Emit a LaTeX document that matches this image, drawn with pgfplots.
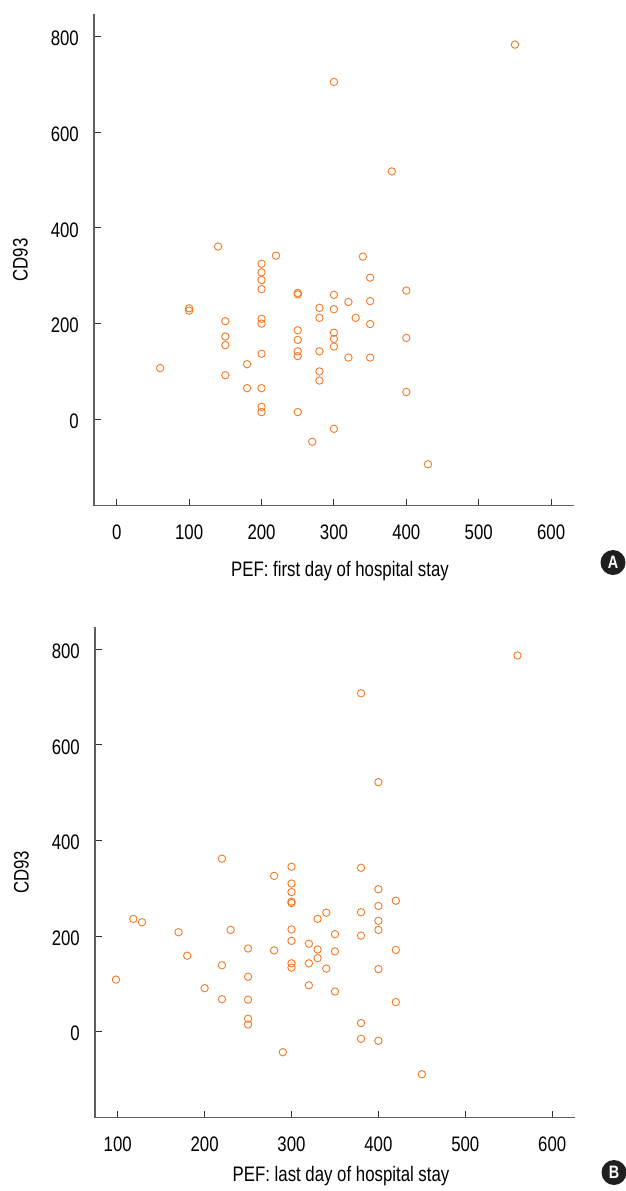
\documentclass[border=0pt]{standalone}
\usepackage{fontspec}
\setmainfont{Liberation Sans}[FakeStretch=0.8]
\usepackage{pgfplots}
\pgfplotsset{compat=1.18}
\definecolor{mk}{RGB}{242,122,38}
\definecolor{axg}{RGB}{95,95,95}
\newcommand{\lblfont}{\fontsize{21pt}{24pt}\selectfont}
\pgfplotsset{
  scat/.style={
    scale only axis,
    width=480pt,
    axis lines=left,
    axis line style={-, draw=axg, line width=1.3pt},
    tick align=inside,
    major tick length=7pt,
    tick style={draw=black!80, line width=0.9pt},
    ytick={0,200,400,600,800},
    /pgf/number format/assume math mode=true,
    tick label style={font=\lblfont},
    label style={font=\lblfont},
    yticklabel style={anchor=east, inner sep=0pt, xshift=-15pt, yshift=-2pt},
    xticklabel style={anchor=north, inner sep=0pt, yshift=-19pt},
    ylabel style={at={(axis description cs:0,0.5)}, anchor=center, inner sep=0pt, yshift=73.5pt},
    clip=false,
  },
  mk/.style={only marks, mark=o, mark size=3.7pt, mark options={draw=mk, line width=0.9pt}}
}
\begin{document}
\begin{tikzpicture}
\path[use as bounding box] (0pt,0pt) rectangle (625pt,-1191pt);
% Panel A
\begin{axis}[scat,
  at={(94pt,-505.7pt)}, anchor=south west,
  height=491.7pt,
  xmin=-31.4, xmax=631.6, ymin=-180.6, ymax=847,
  xtick={0,100,200,300,400,500,600},
  xlabel={PEF: first day of hospital stay},
  ylabel={CD93},
  xlabel style={at={(axis description cs:0.5,0)}, anchor=north, inner sep=0pt, yshift=-55pt, xshift=6pt},
]
\addplot[mk] coordinates {
(550,783) (300,705) (380,518) (140,361) (220,342)
(200,325) (200,307) (200,291) (200,272)
(340,340) (350,296) (400,269) (250,264) (250,261)
(300,260) (320,245) (350,247) (100,232) (100,227)
(280,233) (300,230) (280,212) (330,212) (150,205)
(200,210) (200,200) (350,199) (250,186)
(300,181) (300,168) (300,152) (250,166)
(150,173) (150,155) (400,170) (200,137)
(250,142) (250,132) (280,142) (320,129) (350,129)
(60,107) (180,115) (150,92) (280,100) (280,81)
(180,65) (200,65) (400,57) (200,26) (200,15)
(250,15) (300,-20) (270,-47) (430,-94)
};
\end{axis}
% Panel B
\begin{axis}[scat,
  at={(95pt,-1117.7pt)}, anchor=south west,
  height=490.4pt,
  xmin=73.9, xmax=626.2, ymin=-180, ymax=846,
  xtick={100,200,300,400,500,600},
  xlabel={PEF: last day of hospital stay},
  ylabel={CD93},
  xlabel style={at={(axis description cs:0.5,0)}, anchor=north, inner sep=0pt, yshift=-48pt, xshift=6pt},
]
\addplot[mk] coordinates {
(560,787) (380,708) (400,522) (220,362) (280,326) (300,345) (380,343)
(300,310) (300,292) (300,272) (300,269)
(400,298) (420,274) (400,263) (380,250) (340,249) (330,236)
(400,232) (400,213) (118,236) (128,229) (170,208) (230,213)
(300,214) (300,190) (350,204) (380,201) (320,184) (330,172)
(350,168) (280,170) (250,174) (180,159) (420,171) (330,154)
(320,143) (300,143) (300,134) (220,139) (340,132) (400,131)
(250,115) (98,109) (200,91) (320,97) (350,84) (220,68)
(250,67) (420,62) (250,27) (250,15) (380,18) (380,-15)
(400,-19) (290,-43) (450,-89)
};
\end{axis}
\node[circle, fill=black!88, text=white, inner sep=0pt, minimum size=25pt,
      font=\fontsize{18pt}{20pt}\selectfont\bfseries] at (613pt,-562.5pt) {A};
\node[circle, fill=black!88, text=white, inner sep=0pt, minimum size=25pt,
      font=\fontsize{18pt}{20pt}\selectfont\bfseries] at (614pt,-1172.5pt) {B};
\end{tikzpicture}
\end{document}
